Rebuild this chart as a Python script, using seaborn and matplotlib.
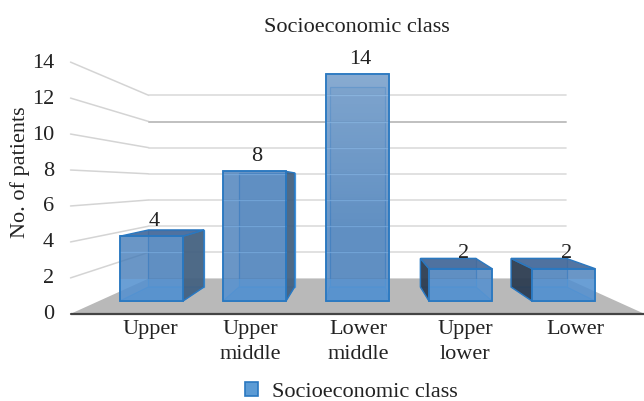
import numpy as np
import matplotlib
matplotlib.use('Agg')
import matplotlib.pyplot as plt
from matplotlib.patches import Polygon, Patch
import seaborn as sns

categories = ['Upper', 'Upper\nmiddle', 'Lower\nmiddle', 'Upper\nlower', 'Lower']
patients = [4, 8, 14, 2, 2]
yticks = [0, 2, 4, 6, 8, 10, 12, 14]
title = 'Socioeconomic class'
ylabel = 'No. of patients'

W, H = 644, 401
# category/value scale, in pixels
X0, DX = 151.5, 103.0
Y0, DY = 301.0, 16.2
# vanishing point, in data units
VX, VV = 2.0, 7.22
S_FRONT, S_BACK = 1.11, 0.807
BAR_BACK = 0.88
ROOM = 2.51
BAR_W = 63 / 103
FLOOR_BACK = 1.36

FACE = '#457cb8'
EDGE = '#2a78c0'
INK = '#222222'


def proj(x, v, s):
    return VX + (x - VX) * s, VV + (v - VV) * s


def poly(ax, pts, color, alpha, z, edge=EDGE, lw=1.0):
    ax.add_patch(Polygon(pts, closed=True, facecolor=matplotlib.colors.to_rgba(color, alpha),
                         edgecolor=edge, lw=lw, zorder=z))


sns.set_theme(style='white')
plt.rcParams['font.family'] = ['Liberation Serif', 'DejaVu Serif']
fig, ax = plt.subplots(figsize=(W / 100, H / 100), dpi=100)
ax.set_position([0, 0, 1, 1])

# room: floor, back wall lines, left wall lines
left, right = VX - ROOM, VX + ROOM
floor = [proj(left, 0, S_FRONT), proj(right, 0, S_FRONT), proj(right, 0, S_BACK), proj(left, 0, S_BACK)]
ax.add_patch(Polygon(floor, closed=True, facecolor='#b9b9b9', edgecolor='none', zorder=1))
for t in yticks[1:]:
    a = proj(left, t, S_FRONT)
    b = proj(left, t, S_BACK)
    c = proj(right, t, S_BACK)
    ax.plot([a[0], b[0]], [a[1], b[1]], color='#d4d4d4', lw=1.1, zorder=1.5)
    ax.plot([b[0], c[0]], [b[1], c[1]], color='#c0c0c0' if t == 12 else '#dcdcdc',
            lw=1.4 if t == 12 else 1.2, zorder=1.5)
a = proj(left, 0, S_FRONT)
b = proj(right, 0, S_FRONT)
ax.plot([a[0], b[0]], [a[1], b[1]], color='#444444', lw=1.6, zorder=2)

# front faces of the bars
sns.barplot(x=categories, y=patients, ax=ax, color=FACE, width=BAR_W, saturation=1,
            alpha=0.8, edgecolor=EDGE, linewidth=1.2, zorder=6)

# depth of the bars
for p, val in zip(ax.patches[1:], patients):
    x1, x2 = p.get_x(), p.get_x() + p.get_width()
    bl, br = proj(x1, 0, BAR_BACK), proj(x2, 0, BAR_BACK)
    tl, tr = proj(x1, val, BAR_BACK), proj(x2, val, BAR_BACK)
    fbl, fbr, ftl, ftr = (x1, 0), (x2, 0), (x1, val), (x2, val)
    poly(ax, [fbl, fbr, br, bl], '#5b9bd5', 0.6, 3, edge='#4f9be0', lw=0.9)
    poly(ax, [bl, br, tr, tl], '#5b8fc4', 0.3, 3.2, edge='#4f9be0', lw=0.9)
    if br[0] > x2:
        poly(ax, [fbr, br, tr, ftr], '#43607f', 0.92, 4)
    if bl[0] < x1:
        poly(ax, [fbl, bl, tl, ftl], '#2b3a4e', 0.92, 4)
    if val < VV:
        poly(ax, [ftl, ftr, tr, tl], '#44699a', 0.92, 5)
    # brighter band where the floor shows through
    band = min(val, FLOOR_BACK)
    ax.add_patch(Polygon([fbl, fbr, (x2, band), (x1, band)], closed=True,
                         facecolor='#6cb0f2', alpha=0.35, edgecolor='none', zorder=6.5))
    # back wall lines seen through the glass
    for t in yticks[1:]:
        yy = proj(x1, t, S_BACK)[1]
        if yy < val:
            ax.plot([x1, x2], [yy, yy], color='#7fb2e6', lw=0.9, alpha=0.6, zorder=6.55)
    ax.add_patch(Polygon([fbl, fbr, ftr, ftl], closed=True, facecolor='none',
                         edgecolor=EDGE, lw=1.2, zorder=6.8))

# lighter sheen on the tallest bar
tall = ax.patches[1 + int(np.argmax(patients))]
sheen = np.zeros((64, 2, 4))
sheen[..., :3] = 1.0
sheen[:, :, 3] = np.linspace(0.2, 0.0, 64)[:, None]
ax.imshow(sheen, extent=(tall.get_x(), tall.get_x() + tall.get_width(), 4, tall.get_height()),
          aspect='auto', zorder=6.6, origin='upper')

ax.set_xlim(-X0 / DX, (W - X0) / DX)
ax.set_ylim((Y0 - H) / DY, Y0 / DY)
ax.axis('off')

# value labels
for i, val in enumerate(patients):
    ax.text(i + 0.025, val + 0.92, str(val), ha='center', va='center', fontsize=16,
            color=INK, zorder=8)

# tick labels
for t in yticks:
    _, yy = proj(left, t, S_FRONT)
    ax.text((54 - X0) / DX, yy - 1 / DY, str(t), ha='right', va='center', fontsize=16, color=INK, zorder=8)
for cat, px in zip(categories, [150, 250, 358, 465, 575]):
    ax.text((px - X0) / DX, (Y0 - 320) / DY, cat, ha='center', va='top', fontsize=16,
            color=INK, linespacing=1.42, zorder=8)

ax.text((357 - X0) / DX, (Y0 - 28) / DY, title, ha='center', va='center', fontsize=16, color=INK)
ax.text((20 - X0) / DX, (Y0 - 172) / DY, ylabel, rotation=90, ha='center', va='center',
        fontsize=16, color=INK)

handle = Patch(facecolor='#5b9bd5', edgecolor=EDGE, lw=1.2, label=title)
ax.legend(handles=[handle], loc='center', bbox_to_anchor=(351 / W, 1 - 392 / H), frameon=False,
          fontsize=16, handlelength=0.62, handleheight=0.62, handletextpad=0.6,
          labelcolor=INK, borderpad=0)

fig.savefig('out.png', dpi=100)
